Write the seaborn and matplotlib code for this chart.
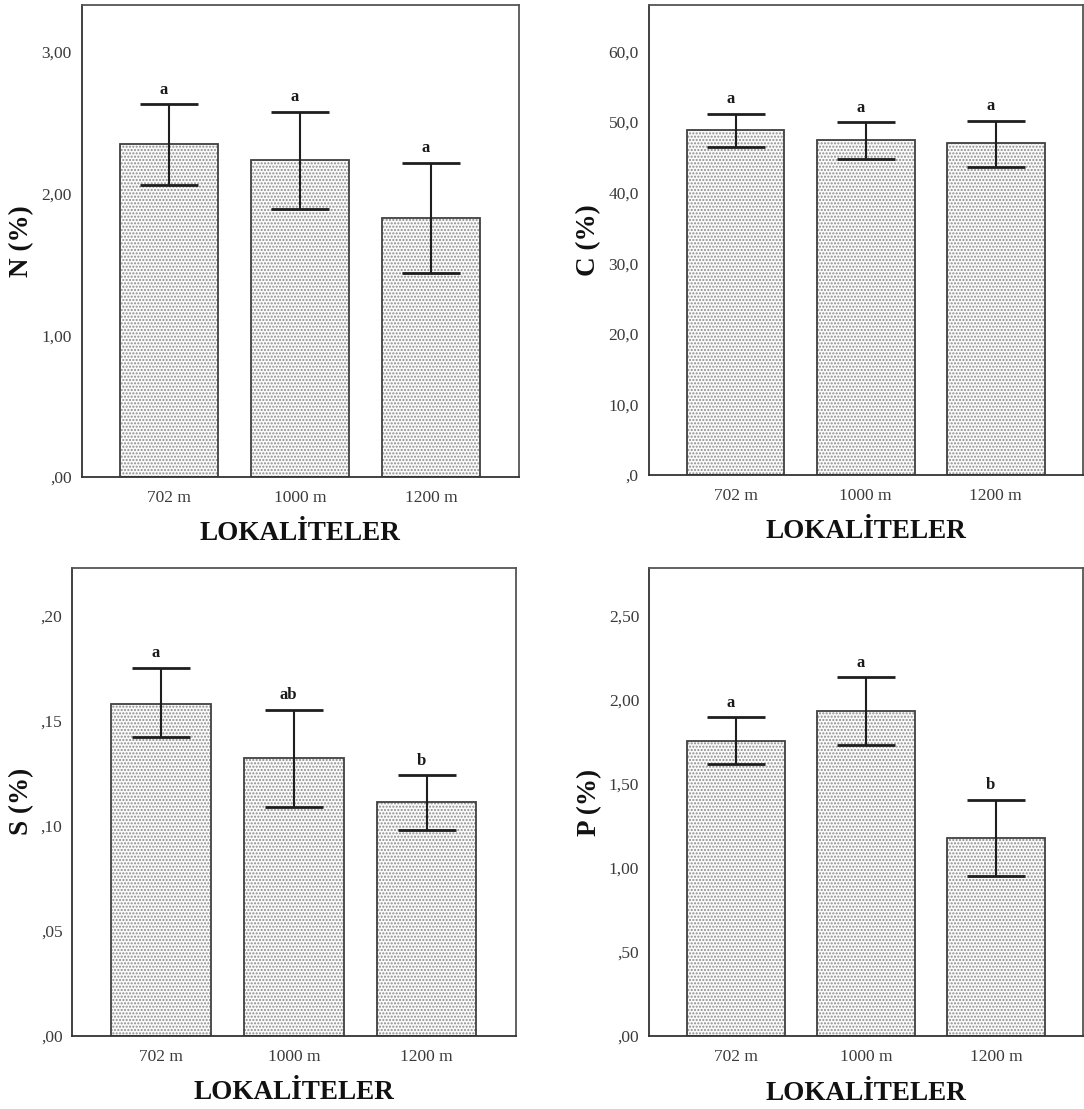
import numpy as np
import pandas as pd
import matplotlib
matplotlib.use("Agg")
import matplotlib.pyplot as plt
import seaborn as sns

# ---- data ----
localities = ["702 m", "1000 m", "1200 m"]

n_mean = [2.35, 2.24, 1.83]
n_low = [2.06, 1.89, 1.44]
n_high = [2.63, 2.58, 2.22]
n_letters = ["a", "a", "a"]
n_ticks = [0, 1, 2, 3]
n_ticklabels = [",00", "1,00", "2,00", "3,00"]

c_mean = [48.9, 47.4, 47.0]
c_low = [46.5, 44.8, 43.6]
c_high = [51.2, 50.0, 50.2]
c_letters = ["a", "a", "a"]
c_ticks = [0, 10, 20, 30, 40, 50, 60]
c_ticklabels = [",0", "10,0", "20,0", "30,0", "40,0", "50,0", "60,0"]

s_mean = [0.158, 0.132, 0.111]
s_low = [0.142, 0.109, 0.098]
s_high = [0.175, 0.155, 0.124]
s_letters = ["a", "ab", "b"]
s_ticks = [0, 0.05, 0.10, 0.15, 0.20]
s_ticklabels = [",00", ",05", ",10", ",15", ",20"]

p_mean = [1.755, 1.93, 1.177]
p_low = [1.617, 1.729, 0.948]
p_high = [1.895, 2.132, 1.403]
p_letters = ["a", "a", "b"]
p_ticks = [0, 0.5, 1.0, 1.5, 2.0, 2.5]
p_ticklabels = [",00", ",50", "1,00", "1,50", "2,00", "2,50"]

sns.set_style("white")
plt.rcParams['font.family'] = ['Liberation Serif', 'DejaVu Serif']
plt.rcParams['hatch.linewidth'] = 1.0

fig = plt.figure(figsize=(10.84, 11.09), dpi=100)

panels = [
    # rect, ylabel, ylim top, means, lows, highs, letters, ticks, ticklabels
    ([0.0753, 0.5699, 0.4035, 0.4253], "N (%)", 3.33, n_mean, n_low, n_high, n_letters, n_ticks, n_ticklabels),
    ([0.5983, 0.5717, 0.4007, 0.4238], "C (%)", 66.6, c_mean, c_low, c_high, c_letters, c_ticks, c_ticklabels),
    ([0.0667, 0.0662, 0.4089, 0.4216], "S (%)", 0.2225, s_mean, s_low, s_high, s_letters, s_ticks, s_ticklabels),
    ([0.5987, 0.0658, 0.4004, 0.4220], "P (%)", 2.78, p_mean, p_low, p_high, p_letters, p_ticks, p_ticklabels),
]

for rect, ylab, ytop, mean, low, high, letters, ticks, ticklabels in panels:
    ax = fig.add_axes(rect)
    df = pd.DataFrame({"loc": localities, "val": mean})

    # dotted fill
    sns.barplot(data=df, x="loc", y="val", color="white", width=0.75,
                errorbar=None, ax=ax)
    # outline
    sns.barplot(data=df, x="loc", y="val", color="white", width=0.75,
                errorbar=None, ax=ax)
    for i, p in enumerate(ax.patches):
        if i < 3:
            p.set_facecolor("#fafafa")
            p.set_hatch(".....")
            p.set_edgecolor("#8c8c8c")
            p.set_linewidth(0)
        else:
            p.set_facecolor("none")
            p.set_edgecolor("#404040")
            p.set_linewidth(1.3)

    m = np.array(mean)
    yerr = [m - np.array(low), np.array(high) - m]
    ax.errorbar(range(len(localities)), mean, yerr=yerr, fmt="none",
                ecolor="#1e1e1e", elinewidth=1.5, capsize=21, capthick=2.0, zorder=5)

    for i, (h, lab) in enumerate(zip(high, letters)):
        ax.annotate(lab, xy=(i, h), xytext=(-4, 7.5), textcoords="offset points",
                    ha="center", va="baseline", fontsize=12, fontweight="bold",
                    color="#1a1a1a")

    ax.set_xlim(-0.67, 2.67)
    ax.set_ylim(0, ytop)
    ax.set_yticks(ticks)
    ax.set_yticklabels(ticklabels)
    ax.tick_params(axis="both", direction="out", length=6, width=1.3,
                   color="#333333", labelcolor="#3a3a3a", labelsize=12.5)
    ax.tick_params(axis="y", pad=1)
    ax.tick_params(axis="x", pad=3.5)
    ax.set_xlabel("LOKALİTELER", fontsize=19.5, fontweight="bold", labelpad=11,
                  color="#111111")
    ax.set_ylabel(ylab, fontsize=19.5, fontweight="bold", labelpad=5,
                  color="#111111")
    for side, sp in ax.spines.items():
        sp.set_visible(True)
        sp.set_color("#555555" if side in ("top", "right") else "#333333")
        sp.set_linewidth(1.3)

fig.savefig("out.png", dpi=100)
